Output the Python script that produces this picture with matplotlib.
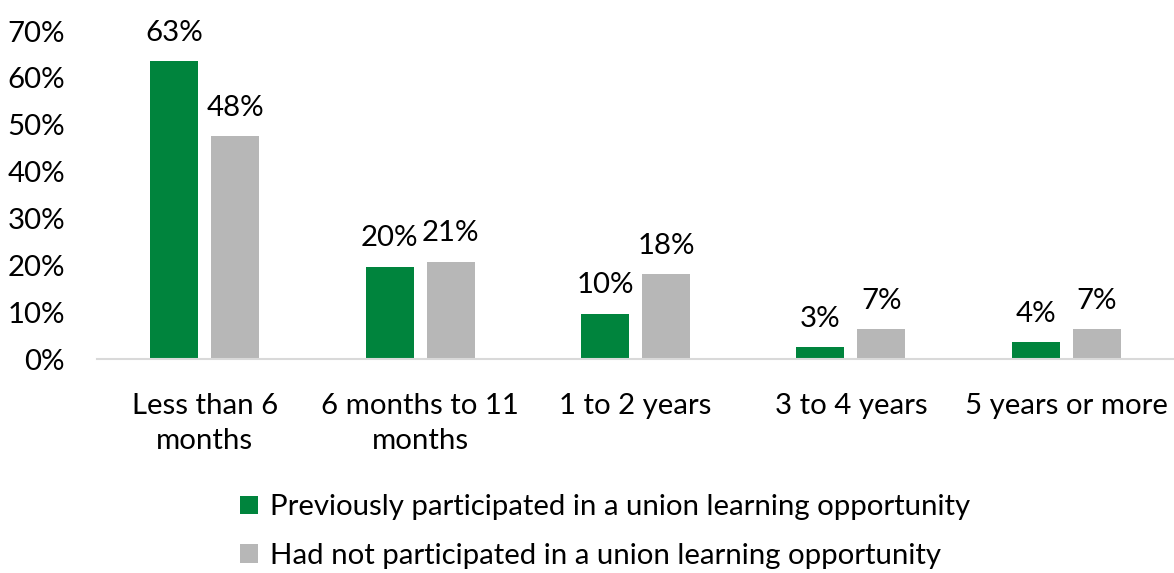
import numpy as np
import matplotlib.pyplot as plt

plt.rcParams['font.family'] = ['Lato', 'DejaVu Sans']

categories = ['Less than 6\nmonths', '6 months to 11\nmonths', '1 to 2 years',
              '3 to 4 years', '5 years or more']
participated = [63.5, 19.7, 9.7, 2.6, 3.6]
not_participated = [47.6, 20.8, 18.1, 6.4, 6.4]
participated_labels = ['63%', '20%', '10%', '3%', '4%']
not_participated_labels = ['48%', '21%', '18%', '7%', '7%']
series_names = ['Previously participated in a union learning opportunity',
                'Had not participated in a union learning opportunity']

green = '#00843D'
grey = '#B7B7B7'
text_col = '#000000'
fs = 21.2

fig = plt.figure(figsize=(11.74, 5.73), dpi=100)
ax = fig.add_axes([97 / 1174, 1 - 359 / 573, 1 - 97 / 1174, (359 - 31) / 573])

x = np.arange(len(categories))
w = 0.223
off = 0.1415
b1 = ax.bar(x - off, participated, w, color=green, label=series_names[0])
b2 = ax.bar(x + off, not_participated, w, color=grey, label=series_names[1])

for bars, labels in ((b1, participated_labels), (b2, not_participated_labels)):
    for bar, lab in zip(bars, labels):
        ax.annotate(lab, (bar.get_x() + bar.get_width() / 2, bar.get_height()),
                    xytext=(0, 11), textcoords='offset points',
                    ha='center', va='bottom', fontsize=fs, color=text_col)

ax.set_xlim(-0.5, len(categories) - 0.5)
ax.set_ylim(0, 70)
ax.set_yticks(np.arange(0, 71, 10))
ax.set_yticklabels([f'{v}%' for v in range(0, 71, 10)])
ax.set_xticks(x)
ax.set_xticklabels(categories, linespacing=1.45)
ax.tick_params(axis='both', length=0, labelsize=fs, colors=text_col)
ax.tick_params(axis='y', pad=23)
ax.tick_params(axis='x', pad=24.5)

for s in ('top', 'right', 'left'):
    ax.spines[s].set_visible(False)
ax.spines['bottom'].set_color('#D9D9D9')
ax.spines['bottom'].set_linewidth(1.5)

fig.legend(loc='upper center', bbox_to_anchor=(605 / 1174, 1 - 468 / 573),
           ncol=1, frameon=False, fontsize=fs, handlelength=0.6,
           handleheight=0.6, handletextpad=0.4, labelspacing=0.77)

fig.savefig('out.png', dpi=100)
